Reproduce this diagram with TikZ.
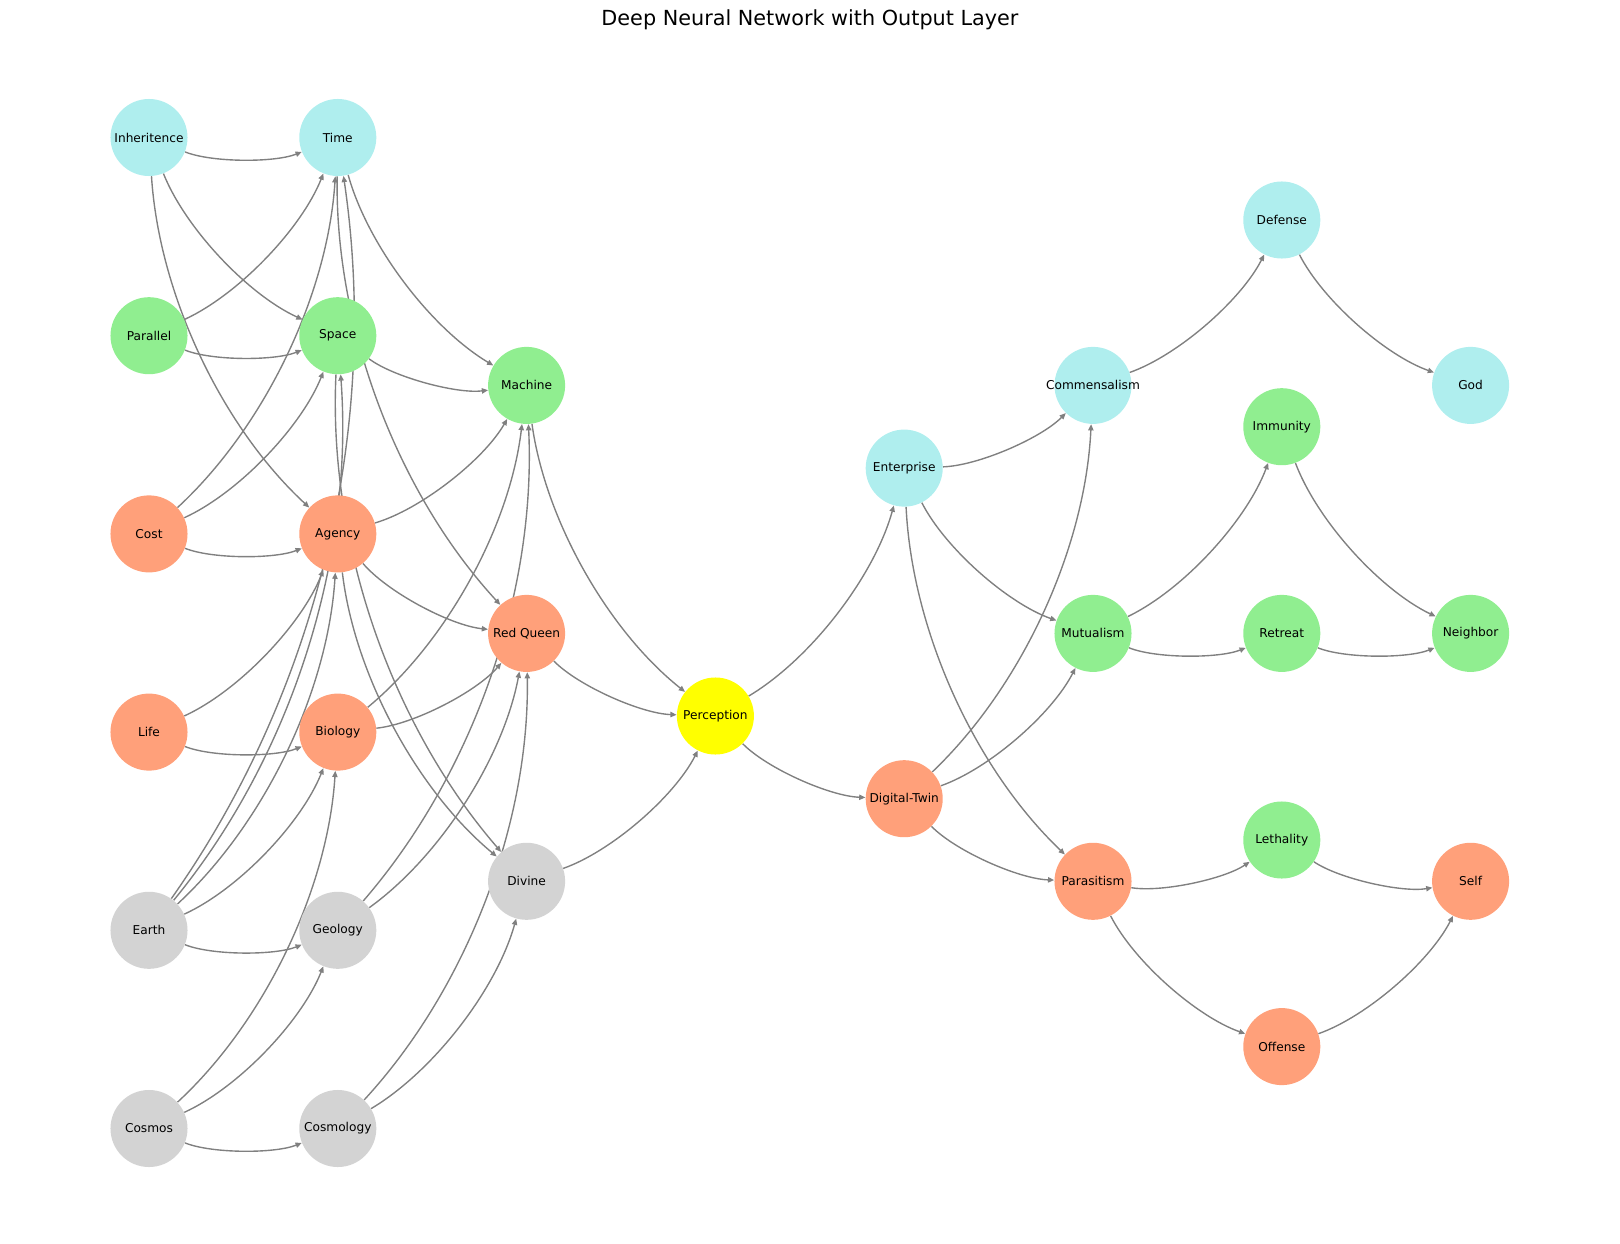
\documentclass[tikz,border=0pt]{standalone}
\usepackage{fontspec}
\setmainfont{DejaVu Sans}
\usepackage{tikz}
\usetikzlibrary{arrows.meta,backgrounds,calc}
\definecolor{tqc}{RGB}{175,238,238}
\definecolor{gnc}{RGB}{144,238,144}
\definecolor{sac}{RGB}{255,160,122}
\definecolor{gyc}{RGB}{211,211,211}
\definecolor{ywc}{RGB}{255,255,0}
% curved connector, bulging to the right of its direction
\newcommand\lnk[2]{\path ($(#1)!0.5!(#2)!0.4!-90:(#2)$) coordinate (ctl);
  \draw[e](#1) .. controls ($(#1)!2/3!(ctl)$) and ($(#2)!2/3!(ctl)$) .. (#2);}
\begin{document}
\begin{tikzpicture}[x=0.01in,y=-0.01in,>={Triangle[length=4.5pt,width=3.8pt]},
  nd/.style={circle,minimum size=0.77in,inner sep=0pt,font=\fontsize{8.8}{10}\selectfont},
  tq/.style={nd,fill=tqc},gn/.style={nd,fill=gnc},sa/.style={nd,fill=sac},
  gy/.style={nd,fill=gyc},yw/.style={nd,fill=ywc},
  e/.style={->,draw=gray,line width=1pt}]
  \useasboundingbox (0,0) rectangle (1620,1244);
  \node[font=\fontsize{15}{18}\selectfont,anchor=base](title) at (810,25.5){Deep Neural Network with Output Layer};
  % input layer
  \node[tq](inh) at (149,137.5){Inheritence};\node[gn](par) at (149,335.7){Parallel};
  \node[sa](cost) at (149,533.9){Cost};\node[sa](life) at (149,732.1){Life};
  \node[gy](earth) at (149,930.3){Earth};\node[gy](cosmos) at (149,1128.5){Cosmos};
  % second layer
  \node[tq](time) at (337.8,137.5){Time};\node[gn](space) at (337.8,335.7){Space};
  \node[sa](agency) at (337.8,533.9){Agency};\node[sa](bio) at (337.8,732.1){Biology};
  \node[gy](geo) at (337.8,930.3){Geology};\node[gy](cosmo) at (337.8,1128.5){Cosmology};
  % third layer
  \node[gn](mach) at (526.6,385.4){Machine};\node[sa](rq) at (526.6,633.4){Red Queen};
  \node[gy](div) at (526.6,881.3){Divine};
  \node[yw](perc) at (715.4,716){Perception};
  \node[tq](ent) at (904.2,468.1){Enterprise};\node[sa](dt) at (904.2,798.7){Digital-Twin};
  \node[tq](comm) at (1093,385.4){\makebox[0pt]{Commensalism}};\node[gn](mut) at (1093,633.4){Mutualism};
  \node[sa](para) at (1093,881.3){Parasitism};
  % output side
  \node[tq](def) at (1281.8,220){Defense};\node[gn](imm) at (1281.8,426.7){Immunity};
  \node[gn](ret) at (1281.8,633.4){Retreat};\node[gn](leth) at (1281.8,840){Lethality};
  \node[sa](off) at (1281.8,1046.6){Offense};
  \node[tq](god) at (1470.6,385.4){God};\node[gn](nb) at (1470.6,633.4){Neighbor};
  \node[sa](self) at (1470.6,881.3){Self};
  \begin{scope}[on background layer]
   \lnk{inh}{time}\lnk{inh}{space}\lnk{inh}{agency}
   \lnk{par}{time}\lnk{par}{space}
   \lnk{cost}{time}\lnk{cost}{space}\lnk{cost}{agency}
   \lnk{life}{agency}\lnk{life}{bio}
   \lnk{earth}{time}\lnk{earth}{space}\lnk{earth}{agency}\lnk{earth}{bio}\lnk{earth}{geo}
   \lnk{cosmos}{bio}\lnk{cosmos}{geo}\lnk{cosmos}{cosmo}
   \lnk{time}{mach}\lnk{time}{rq}
   \lnk{space}{mach}\lnk{space}{div}
   \lnk{agency}{mach}\lnk{agency}{rq}\lnk{agency}{div}
   \lnk{bio}{mach}\lnk{bio}{rq}
   \lnk{geo}{mach}\lnk{geo}{rq}
   \lnk{cosmo}{rq}\lnk{cosmo}{div}
   \lnk{mach}{perc}\lnk{rq}{perc}\lnk{div}{perc}
   \lnk{perc}{ent}\lnk{perc}{dt}
   \lnk{ent}{comm}\lnk{ent}{mut}\lnk{ent}{para}
   \lnk{dt}{comm}\lnk{dt}{mut}\lnk{dt}{para}
   \lnk{comm}{def}\lnk{def}{god}
   \lnk{mut}{imm}\lnk{mut}{ret}\lnk{imm}{nb}\lnk{ret}{nb}
   \lnk{para}{leth}\lnk{para}{off}\lnk{leth}{self}\lnk{off}{self}
  \end{scope}
\end{tikzpicture}
\end{document}
